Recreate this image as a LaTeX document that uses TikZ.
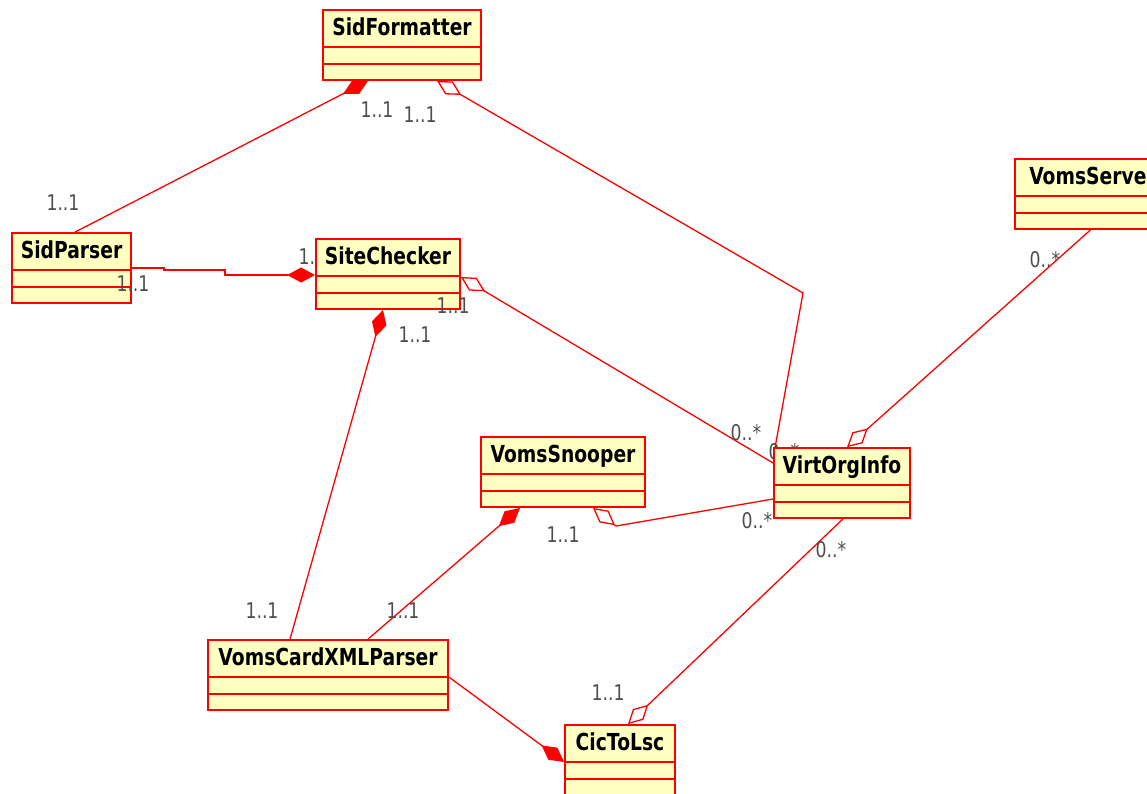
\documentclass[tikz,border=0pt]{standalone}
\usepackage{fontspec}
\setmainfont{DejaVu Sans}[FakeStretch=0.8]
\usetikzlibrary{arrows.meta,backgrounds}
\definecolor{clsfill}{HTML}{FFFFC2}
\definecolor{multgray}{HTML}{4D4D4D}
\tikzset{
  cls/.style={draw=red, line width=1.8pt, fill=clsfill, inner sep=0pt,
    text height=25pt, text depth=45pt,
    font=\fontsize{23.4}{24}\selectfont\bfseries,
    path picture={
      \draw[red, line width=2.2pt] ([yshift=-37pt]path picture bounding box.north west) -- ([yshift=-37pt]path picture bounding box.north east);
      \draw[red, line width=2.2pt] ([yshift=-54pt]path picture bounding box.north west) -- ([yshift=-54pt]path picture bounding box.north east);}},
  assoc/.style={draw=red, line width=1.3pt},
  comp/.style={assoc, -{Diamond[length=28pt,width=15pt]}},
  aggr/.style={assoc, -{Diamond[open,length=28pt,width=15pt]}},
  mult/.style={text=multgray, inner sep=0pt, font=\fontsize{21.6}{22}\selectfont}
}
\begin{document}
\begin{tikzpicture}[x=1pt,y=-1pt]
\useasboundingbox (0,0) rectangle (1147,793);
% classes
\node[cls, minimum width=158pt] (fmt) at (402,45) {SidFormatter};
\node[cls, minimum width=119pt] (spar) at (71.5,268) {SidParser};
\node[cls, minimum width=144pt] (chk) at (388,274) {SiteChecker};
\node[cls, minimum width=155pt] (vsrv) at (1092.5,194) {VomsServer};
\node[cls, minimum width=136pt] (voi) at (842,483) {VirtOrgInfo};
\node[cls, minimum width=164pt] (snp) at (563,472) {VomsSnooper};
\node[cls, minimum width=240pt] (xml) at (328,675) {VomsCardXMLParser};
\node[cls, minimum width=110pt] (cic) at (620,760) {CicToLsc};
\coordinate (fmtbend) at (803,293);
\coordinate (snpbend) at (616,526);
\node[mult] (mSparChk) at (133,284) {1..1};
\node[mult] (mChkVoi) at (453,306) {1..1};
\begin{pgfonlayer}{background}
% associations
\draw[comp] ([xshift=3.5pt]spar.north) -- ([xshift=-34pt]fmt.south);
\draw[aggr] ([xshift=2pt]voi.north west) -- (fmtbend) -- ([xshift=35pt]fmt.south);
\draw[comp] (spar.east) -- ++(32,0) -- ++(0,2) -- ++(61,0) -- ++(0,5) -- ([yshift=-1pt]chk.west);
\draw[aggr] ([yshift=20pt]voi.west) -- ([yshift=-3pt]chk.east);
\draw[comp] ([xshift=-38pt]xml.north) -- ([xshift=-5pt]chk.south);
\draw[aggr] ([xshift=-2pt]vsrv.south) -- ([xshift=5pt]voi.north);
\draw[aggr] ([yshift=-16pt]voi.west) -- (snpbend) -- ([xshift=30pt]snp.south);
\draw[comp] ([xshift=40pt]xml.north) -- ([xshift=-43pt]snp.south);
\draw[aggr] ([xshift=1pt]voi.south) -- ([xshift=8pt]cic.north);
\draw[comp] ([yshift=-2pt]xml.east) -- ([yshift=-2pt]cic.west);
% multiplicities
\node[mult] (mSparFmt) at (63,203) {1..1};
\node[mult] (mFmtSpar) at (377,110) {1..1};
\node[mult] (mFmtVoi) at (420,115) {1..1};
\node[mult] (mVoiFmt) at (784,452) {0..*};
\node[mult] (mChkSpar) at (315,257) {1..1};
\node[mult] (mVoiChk) at (746,433) {0..*};
\node[mult] (mChkXml) at (415,335) {1..1};
\node[mult] (mXmlChk) at (262,611) {1..1};
\node[mult] (mVsrvVoi) at (1045,260) {0..*};
\node[mult] (mSnpVoi) at (563,535) {1..1};
\node[mult] (mVoiSnp) at (757,521) {0..*};
\node[mult] (mXmlSnp) at (403,611) {1..1};
\node[mult] (mVoiCic) at (831,550) {0..*};
\node[mult] (mCicVoi) at (608,693) {1..1};
\end{pgfonlayer}
\end{tikzpicture}
\end{document}
